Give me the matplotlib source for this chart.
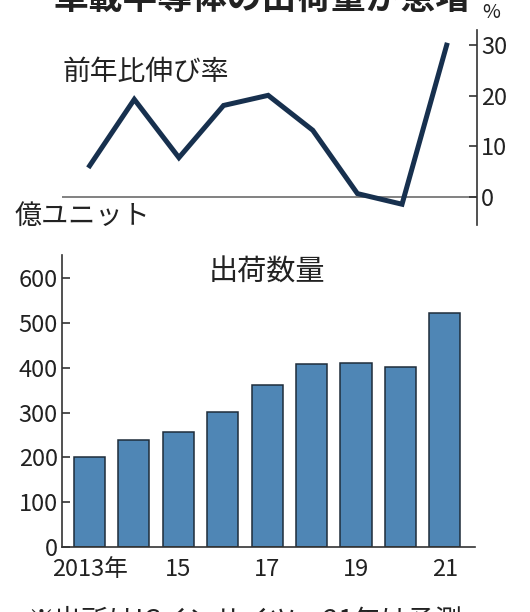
import matplotlib
matplotlib.use('Agg')
import matplotlib.pyplot as plt

plt.rcParams['font.family'] = ['Noto Sans CJK JP', 'DejaVu Sans']

years = ['2013', '2014', '2015', '2016', '2017', '2018', '2019', '2020', '2021']
tick_labels = ['2013年', '15', '17', '19', '21']
shipments = [201, 239, 257, 301, 362, 409, 411, 403, 523]   # 億ユニット
growth = [6.2, 19.3, 7.8, 18.1, 20.1, 13.2, 0.7, -1.4, 30.0]  # 前年比 %

W, H = 530, 612
fig = plt.figure(figsize=(W / 100, H / 100), dpi=100)

x = list(range(len(years)))
xlim = (-0.62, 8.68)
axis_col = '#333333'

# top: growth rate line
ax1 = fig.add_axes([62 / W, 1 - 225 / H, (477 - 62) / W, 195 / H])
ax1.plot(x, growth, color='#17304e', lw=3.6, solid_joinstyle='miter')
ax1.axhline(0, color='#777777', lw=1.3, zorder=0)
ax1.set_xlim(*xlim)
ax1.set_ylim(-5.5, 33)
for s in ['top', 'left', 'bottom']:
    ax1.spines[s].set_visible(False)
ax1.spines['right'].set_color(axis_col)
ax1.spines['right'].set_linewidth(1.2)
ax1.set_xticks([])
ax1.yaxis.tick_right()
ax1.set_yticks([0, 10, 20, 30])
ax1.tick_params(axis='y', direction='in', length=6, width=1.2, color=axis_col,
                labelsize=17, pad=3, labelcolor='#222222')

# bottom: shipments bars
ax2 = fig.add_axes([62 / W, 1 - 547 / H, (475 - 62) / W, (547 - 255) / H])
ax2.bar(x, shipments, width=0.7, color='#4f86b5', edgecolor='#1e2c3a', linewidth=1.1)
ax2.set_xlim(*xlim)
ax2.set_ylim(0, 652)
for s in ['top', 'right']:
    ax2.spines[s].set_visible(False)
for s in ['left', 'bottom']:
    ax2.spines[s].set_color(axis_col)
    ax2.spines[s].set_linewidth(1.2)
ax2.set_yticks(range(0, 601, 100))
ax2.tick_params(axis='y', direction='in', length=6, width=1.2, color=axis_col,
                labelsize=17, pad=3, labelcolor='#222222')
ax2.set_xticks(x[::2])
ax2.set_xticklabels(tick_labels)
ax2.tick_params(axis='x', length=0, labelsize=17, pad=8, labelcolor='#222222')

# texts
fig.text(262 / W, 1 + 2 / H, '車載半導体の出荷量が急増', ha='center', va='center',
         fontsize=25, fontweight='bold', color='#222222')
fig.text(491 / W, 1 - 13 / H, '%', ha='center', va='center', fontsize=14, color='#222222')
fig.text(62 / W, 1 - 72 / H, '前年比伸び率', ha='left', va='center', fontsize=20, color='#222222')
fig.text(15 / W, 1 - 216 / H, '億ユニット', ha='left', va='center', fontsize=19.5, color='#222222')
fig.text(267 / W, 1 - 273 / H, '出荷数量', ha='center', va='center', fontsize=21, color='#222222')
fig.text(27 / W, 1 - 621 / H, '※出所はICインサイツ。21年は予測', ha='left', va='center',
         fontsize=19.5, color='#222222')

plt.savefig('out.png', dpi=100)
